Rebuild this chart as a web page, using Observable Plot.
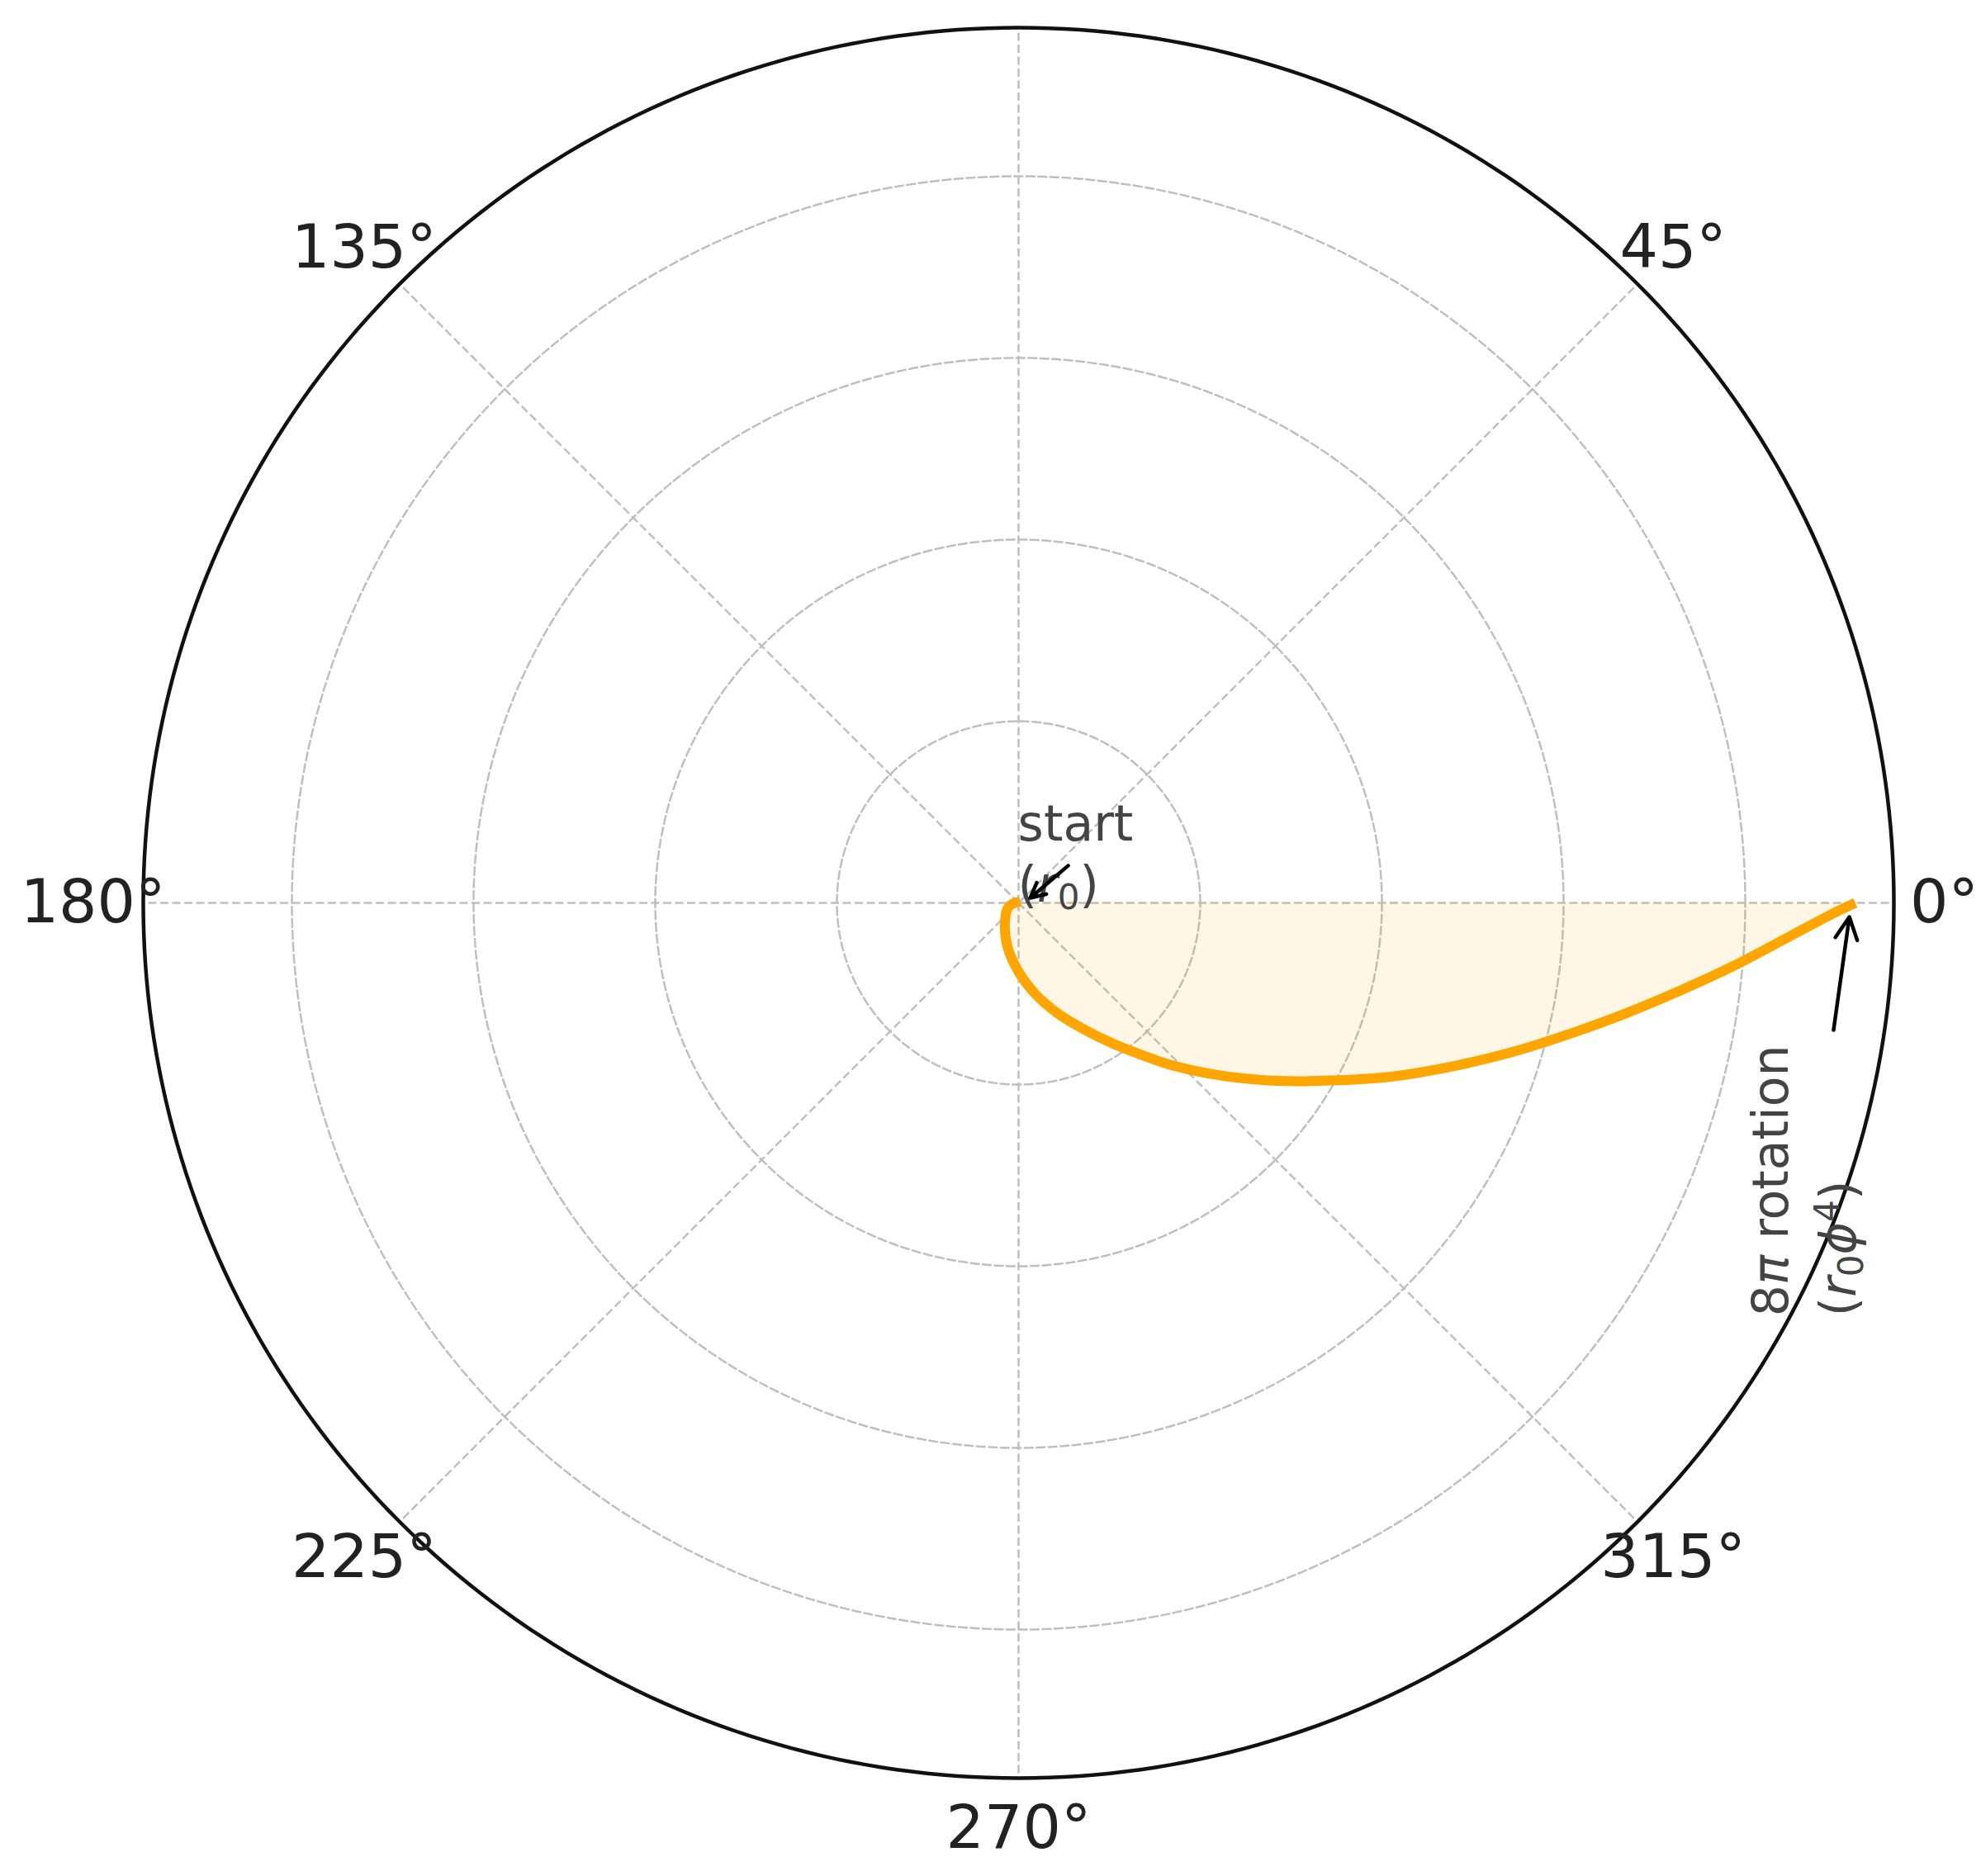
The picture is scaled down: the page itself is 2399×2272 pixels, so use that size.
<!DOCTYPE html>
<html>
<head>
<meta charset="utf-8">
<script src="https://cdn.jsdelivr.net/npm/d3@7"></script>
<script src="https://cdn.jsdelivr.net/npm/@observablehq/plot@0.6"></script>
<style>
  html, body { margin: 0; padding: 0; background: #fff; overflow: hidden; }
  svg { display: block; }
</style>
</head>
<body>
<div id="chart"></div>
<script>
// ---- data (polar angle in degrees, radius in grid units) ----
const curveAngle = [45, 191.6, 206.7, 238.1, 256.0, 270.0, 280.3, 289.3, 297.5, 303.7, 308.7, 312.7, 316.4, 319.7, 322.7, 325.5, 328.1, 330.5, 332.7, 334.7, 339.8, 343.3, 346.6, 349.6, 352.4, 355.0, 357.5, 359.3, 360];
const curveRadius = [0.011, 0.039, 0.068, 0.143, 0.250, 0.379, 0.508, 0.642, 0.786, 0.929, 1.068, 1.206, 1.340, 1.471, 1.600, 1.729, 1.857, 1.985, 2.115, 2.245, 2.584, 2.847, 3.115, 3.389, 3.668, 3.955, 4.247, 4.490, 4.606];

const gridRadii = [1, 2, 3, 4];
const rMax = 4.818;
const thetaTicks = [0, 45, 90, 135, 180, 225, 270, 315];
// the 90° label falls outside the picture in the reference, so it is not shown
const labelAngles = [0, 45, 135, 180, 225, 270, 315];
const labelTexts = ["0°", "45°", "135°", "180°", "225°", "270°", "315°"];
const thetaLabelRadius = 5.095;

// annotations (x, y in the chart's data units)
const annotText = ["start\n(r₀)", "8π rotation\n(r₀ϕ⁴)"];
const annotX = [-0.004, 3.970];
const annotY = [0.5805, -2.276];
const annotRotate = [0, -90];
const annotLineHeight = [1.23, 1.37];
const arrowX1 = [0.273, 4.486];
const arrowY1 = [0.205, -0.700];
const arrowX2 = [0.064, 4.573];
const arrowY2 = [0.027, -0.077];

// ---- helpers ----
const rad = (d) => d * Math.PI / 180;
const polar = (a, r) => ({x: r * Math.cos(rad(a)), y: r * Math.sin(rad(a))});

const curve = curveAngle.map((a, i) => polar(a, curveRadius[i]));
const circleAngles = d3.range(0, 361, 1);
const gridCircles = gridRadii.flatMap((r) => circleAngles.map((a) => ({...polar(a, r), r})));
const outerCircle = circleAngles.map((a) => polar(a, rMax));
const spokes = thetaTicks.map((a) => polar(a, rMax));
const labels = labelAngles.map((a, i) => ({...polar(a, thetaLabelRadius), text: labelTexts[i]}));
const arrows = arrowX1.map((x1, i) => ({x1, y1: arrowY1[i], x2: arrowX2[i], y2: arrowY2[i]}));

const gridStyle = {stroke: "#bfbfbf", strokeWidth: 2.5, strokeDasharray: "10,4.5"};

const annotMarks = annotText.map((t, i) =>
  Plot.text([{x: annotX[i], y: annotY[i], text: t}], {
    x: "x", y: "y", text: "text",
    rotate: annotRotate[i],
    textAnchor: "start", lineAnchor: "top", lineHeight: annotLineHeight[i],
    fontSize: 60, fill: "#444", fontFamily: "DejaVu Sans"
  })
);

const chart = Plot.plot({
  width: 2399,
  height: 2272,
  marginLeft: 173,
  marginRight: 106,
  marginTop: 33,
  marginBottom: 119,
  x: {domain: [-rMax, rMax], axis: null},
  y: {domain: [-rMax, rMax], axis: null},
  style: {fontFamily: "DejaVu Sans", background: "white"},
  marks: [
    Plot.line(gridCircles, {x: "x", y: "y", z: "r", ...gridStyle}),
    Plot.link(spokes, {x1: () => 0, y1: () => 0, x2: "x", y2: "y", ...gridStyle}),
    Plot.line(curve, {x: "x", y: "y", curve: "catmull-rom", fill: "#ffa500", fillOpacity: 0.1, stroke: "none"}),
    Plot.line(curve, {x: "x", y: "y", curve: "catmull-rom", stroke: "#ffa500", strokeWidth: 12, strokeLinecap: "butt"}),
    Plot.line(outerCircle, {x: "x", y: "y", stroke: "#111", strokeWidth: 4.5}),
    Plot.text(labels, {x: "x", y: "y", text: "text", fontSize: 73, fill: "#222", textAnchor: "middle", lineAnchor: "middle", fontFamily: "DejaVu Sans"}),
    ...annotMarks,
    Plot.arrow(arrows, {x1: "x1", y1: "y1", x2: "x2", y2: "y2", stroke: "#000", strokeWidth: 4.5, headLength: 10, headAngle: 53, inset: 0})
  ]
});

document.getElementById("chart").appendChild(chart);

// ---- math-style rich text (italic variables, sub/superscripts) ----
const mathSegments = {
  "(r₀)": [["(", ""], ["r", "i"], ["0", "sub"], [")", "back-sub"]],
  "8π rotation": [["8", ""], ["π", "i"], [" rotation", ""]],
  "(r₀ϕ⁴)": [["(", ""], ["r", "i"], ["0", "sub"], ["ϕ", "i back-sub"], ["4", "sup"], [")", "back-sup"]]
};
const SUB = 9, SUP = 20;
d3.select(chart).selectAll("tspan, text").each(function() {
  if (this.children.length) return;
  const s = this.textContent;
  const segs = mathSegments[s];
  if (!segs) return;
  this.textContent = "";
  const node = d3.select(this);
  for (const [t, kind] of segs) {
    const ts = node.append("tspan").text(t);
    let dy = 0;
    if (kind.includes("back-sub")) dy -= SUB;
    if (kind.includes("back-sup")) dy += SUP;
    if (kind.includes("sub") && !kind.includes("back-sub")) { dy += SUB; ts.attr("font-size", 42); }
    if (kind.includes("sup") && !kind.includes("back-sup")) { dy -= SUP; ts.attr("font-size", 42); }
    if (dy) ts.attr("dy", dy);
    if (kind.includes("i")) ts.attr("font-style", "italic");
  }
});
</script>
</body>
</html>
